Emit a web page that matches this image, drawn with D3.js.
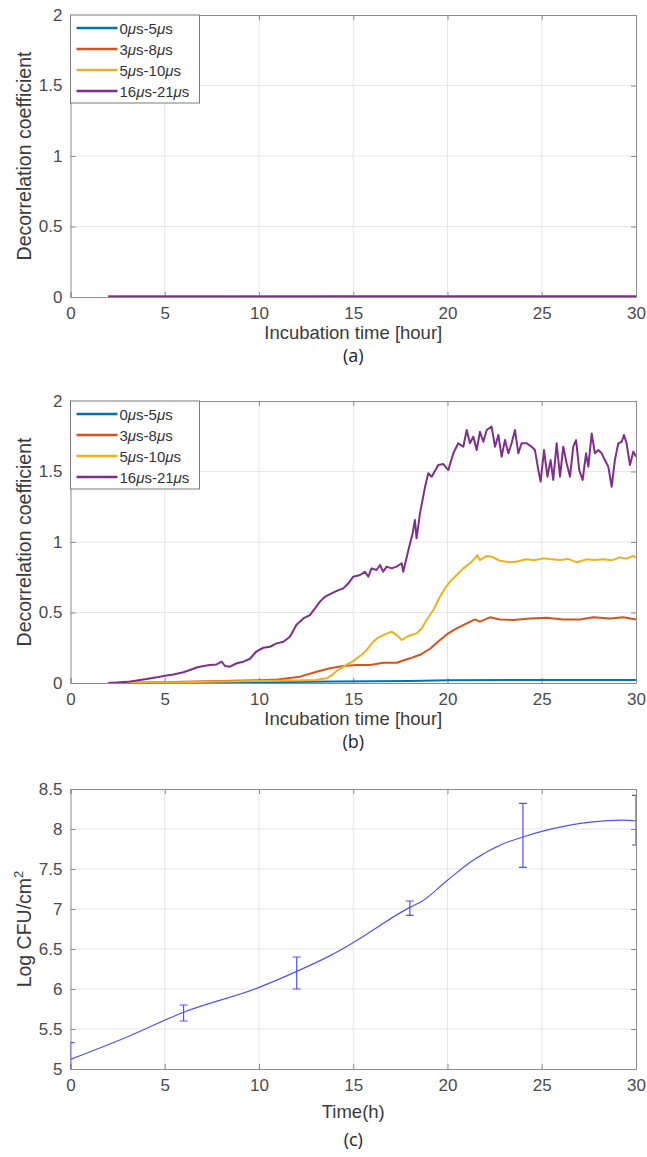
<!DOCTYPE html>
<html><head><meta charset="utf-8">
<script src="https://cdn.jsdelivr.net/npm/d3@7"></script>
<style>body{margin:0;background:#fff}svg{display:block}</style>
</head><body>
<svg id="fig" width="647" height="1157"></svg>
<script>
// ---------------- DATA ----------------
const seriesLabels = ["0μs-5μs", "3μs-8μs", "5μs-10μs", "16μs-21μs"];
const seriesColors = ["#0072BD", "#D95319", "#EDB120", "#7E2F8E"];
const xTickValues = [0, 5, 10, 15, 20, 25, 30];
const decorYTicks = [0, 0.5, 1, 1.5, 2];
const cfuYTicks = [5, 5.5, 6, 6.5, 7, 7.5, 8, 8.5];

// Panel (a): all series flat near zero
const aTime = [2, 6, 10, 14, 18, 22, 26, 30];
const aBlue   = [0, 0, 0.001, 0.001, 0.001, 0.001, 0.001, 0.001];
const aOrange = [0, 0.001, 0.001, 0.002, 0.002, 0.002, 0.002, 0.002];
const aYellow = [0, 0.001, 0.002, 0.002, 0.002, 0.002, 0.002, 0.002];
const aPurple = [0.002, 0.003, 0.003, 0.003, 0.003, 0.003, 0.003, 0.003];

// Panel (b)
const bBlueT = [2, 6, 10, 14, 18, 20, 25, 30];
const bBlueV = [0, 0.002, 0.005, 0.01, 0.015, 0.02, 0.022, 0.022];

const bOrangeT = [2, 4, 6, 8, 10, 11, 12.17, 13.06, 13.76, 14.47, 15.18, 15.89, 16.59, 17.3, 18.01, 18.54, 19.07, 19.6, 20.04, 20.49, 21.02, 21.46, 21.72, 22.25, 22.78, 23.49, 24.38, 25.26, 26.14, 27.03, 27.74, 28.62, 29.33, 30];
const bOrangeV = [0, 0.004, 0.008, 0.014, 0.02, 0.025, 0.045, 0.08, 0.104, 0.12, 0.127, 0.127, 0.144, 0.144, 0.175, 0.2, 0.243, 0.305, 0.352, 0.388, 0.423, 0.451, 0.435, 0.466, 0.451, 0.447, 0.458, 0.463, 0.451, 0.451, 0.466, 0.458, 0.466, 0.451];

const bYellowT = [2, 4, 6, 8, 10, 12, 13, 13.59, 13.9, 14.12, 14.47, 14.65, 15, 15.18, 15.45, 15.71, 16.06, 16.3, 16.59, 17.04, 17.3, 17.57, 17.92, 18.36, 18.63, 18.89, 19.25, 19.6, 19.87, 20.13, 20.49, 20.84, 21.19, 21.46, 21.58, 21.72, 22.08, 22.34, 22.78, 23.31, 23.67, 24.2, 24.6, 25.08, 25.5, 25.97, 26.4, 26.85, 27.38, 27.8, 28.27, 28.7, 29.15, 29.5, 29.86, 30];
const bYellowV = [0, 0.003, 0.006, 0.01, 0.014, 0.018, 0.022, 0.033, 0.06, 0.085, 0.115, 0.13, 0.155, 0.175, 0.2, 0.234, 0.293, 0.32, 0.34, 0.364, 0.34, 0.305, 0.333, 0.352, 0.387, 0.447, 0.518, 0.612, 0.671, 0.719, 0.766, 0.813, 0.849, 0.884, 0.908, 0.872, 0.901, 0.896, 0.867, 0.856, 0.862, 0.877, 0.87, 0.884, 0.878, 0.872, 0.88, 0.856, 0.877, 0.872, 0.877, 0.87, 0.891, 0.882, 0.901, 0.891];

const bPurpleT = [2, 2.5, 3, 3.51, 4.04, 4.57, 5.01, 5.45, 5.99, 6.34, 6.69, 7.05, 7.4, 7.75, 8.02, 8.2, 8.46, 8.82, 9.17, 9.52, 9.87, 10.23, 10.58, 10.93, 11.29, 11.64, 11.98, 12.35, 12.7, 12.97, 13.23, 13.5, 13.85, 14.21, 14.47, 14.74, 15, 15.36, 15.62, 15.8, 15.97, 16.24, 16.42, 16.59, 16.77, 17.04, 17.3, 17.57, 17.65, 17.8, 17.97, 18.15, 18.27, 18.36,
  18.54, 18.81, 18.98, 19.16, 19.51, 19.78, 20.04, 20.31, 20.57, 20.84, 21.02, 21.19, 21.37, 21.55, 21.72, 21.9, 22.08, 22.34, 22.52, 22.7, 22.87, 23.05, 23.23, 23.4, 23.58, 23.76, 23.93, 24.2, 24.46, 24.64, 24.82, 24.94, 25.12, 25.3, 25.47, 25.61, 25.79, 25.97, 26.14, 26.32, 26.5, 26.67, 26.82, 26.99, 27.17, 27.35, 27.47, 27.65, 27.82, 28, 28.18, 28.35, 28.53, 28.71, 28.88, 29.06, 29.24, 29.36, 29.5, 29.68, 29.86, 30];
const bPurpleV = [0, 0.003, 0.008, 0.017, 0.028, 0.04, 0.052, 0.061, 0.076, 0.092, 0.11, 0.12, 0.128, 0.132, 0.151, 0.12, 0.116, 0.14, 0.151, 0.172, 0.225, 0.25, 0.257, 0.281, 0.293, 0.328, 0.411, 0.458, 0.482, 0.529, 0.577, 0.612, 0.636, 0.659, 0.671, 0.707, 0.754, 0.766, 0.789, 0.754, 0.813, 0.801, 0.837, 0.789, 0.825, 0.813, 0.825, 0.849, 0.789, 0.872, 0.967, 1.061, 1.156, 1.026,
  1.203, 1.392, 1.487, 1.463, 1.546, 1.553, 1.51, 1.629, 1.7, 1.676, 1.794, 1.7, 1.747, 1.652, 1.782, 1.711, 1.794, 1.818, 1.676, 1.759, 1.605, 1.723, 1.629, 1.7, 1.794, 1.629, 1.7, 1.7, 1.676, 1.652, 1.51, 1.428, 1.652, 1.463, 1.581, 1.44, 1.7, 1.463, 1.676, 1.558, 1.463, 1.676, 1.723, 1.51, 1.44, 1.629, 1.534, 1.77, 1.629, 1.652, 1.629, 1.581, 1.534, 1.392, 1.581, 1.7, 1.711, 1.759, 1.7, 1.546, 1.641, 1.605];

// Panel (c)
const cfuCurveT = [0, 3, 6, 10, 12, 13.8, 15, 18, 18.6, 20, 21.3, 22.9, 24, 25, 27.7, 29.3, 30];
const cfuCurveV = [5.12, 5.4, 5.71, 6.02, 6.22, 6.42, 6.58, 7.02, 7.09, 7.36, 7.6, 7.81, 7.9, 7.97, 8.09, 8.11, 8.1];
const cfuErrT = [0, 6, 12, 18, 24, 30];
const cfuErrMean = [5.11, 5.7, 6.2, 7.01, 7.92, 8.11];
const cfuErrHalf = [0.22, 0.1, 0.2, 0.09, 0.4, 0.31];

// ---------------- DRAWING ----------------
const svg = d3.select("#fig");
const L = 70.5, R = 636;
const fontSans = "'Liberation Sans', Arial, sans-serif";
const tickColor = "#4a4a4a", boxColor = "#8c8c8c", gridColor = "#e6e6e6";

function panel(id, top, bottom, yDomain, yTicks, yFmt) {
  const x = d3.scaleLinear().domain([0, 30]).range([L, R]);
  const y = d3.scaleLinear().domain(yDomain).range([bottom, top]);
  const g = svg.append("g");
  g.selectAll(".gx").data(xTickValues.slice(1, -1)).join("line")
    .attr("x1", d => x(d)).attr("x2", d => x(d)).attr("y1", top).attr("y2", bottom)
    .attr("stroke", gridColor).attr("stroke-width", 1);
  g.selectAll(".gy").data(yTicks.slice(1, -1)).join("line")
    .attr("y1", d => y(d)).attr("y2", d => y(d)).attr("x1", L).attr("x2", R)
    .attr("stroke", gridColor).attr("stroke-width", 1);
  const xa = g.append("g").attr("transform", `translate(0,${bottom})`)
    .call(d3.axisBottom(x).tickValues(xTickValues).tickSize(-5).tickPadding(10).tickFormat(d3.format("d")));
  const xt = g.append("g").attr("transform", `translate(0,${top})`)
    .call(d3.axisTop(x).tickValues(xTickValues).tickSize(-5).tickFormat(""));
  const ya = g.append("g").attr("transform", `translate(${L},0)`)
    .call(d3.axisLeft(y).tickValues(yTicks).tickSize(-5).tickPadding(8).tickFormat(yFmt));
  const yr = g.append("g").attr("transform", `translate(${R},0)`)
    .call(d3.axisRight(y).tickValues(yTicks).tickSize(-5).tickFormat(""));
  [xa, xt, ya, yr].forEach(a => {
    a.select(".domain").attr("stroke", boxColor);
    a.selectAll(".tick line").attr("stroke", boxColor);
    a.selectAll("text").attr("font-family", fontSans).attr("font-size", 17).attr("fill", tickColor);
  });
  g.append("clipPath").attr("id", "clip" + id).append("rect")
    .attr("x", L).attr("y", top).attr("width", R - L).attr("height", bottom - top);
  const plot = g.append("g").attr("clip-path", `url(#clip${id})`);
  return {x, y, g, plot};
}

function xTitle(text, yPos) {
  svg.append("text").attr("x", (L + R) / 2).attr("y", yPos).attr("text-anchor", "middle")
    .attr("font-family", fontSans).attr("font-size", 18.5).attr("fill", "#3a3a3a").text(text);
}
function panelTag(text, yPos) {
  svg.append("text").attr("x", (L + R) / 2).attr("y", yPos).attr("text-anchor", "middle")
    .attr("font-family", "'Open Sans', 'Noto Sans', sans-serif").attr("font-size", 18).attr("fill", "#1e1e2e").text(text);
}
function yTitle(top, bottom, build) {
  const t = svg.append("text").attr("transform", `translate(31,${(top + bottom) / 2}) rotate(-90)`)
    .attr("text-anchor", "middle").attr("font-family", fontSans).attr("font-size", 19.5).attr("fill", "#3a3a3a");
  build(t);
}

function drawLines(p, list, width) {
  const line = d3.line().x(d => p.x(d[0])).y(d => p.y(d[1]));
  list.forEach((s, i) => {
    const pts = s.t.map((t, k) => [t, s.v[k]]);
    p.plot.append("path").attr("d", line(pts)).attr("fill", "none")
      .attr("stroke", seriesColors[i]).attr("stroke-width", width).attr("stroke-linejoin", "round");
  });
}

function legend(top) {
  const lg = svg.append("g");
  lg.append("rect").attr("x", L).attr("y", top).attr("width", 129).attr("height", 88)
    .attr("fill", "#fff").attr("stroke", "#7a7a7a").attr("stroke-width", 1);
  seriesLabels.forEach((lab, i) => {
    const yy = top + 13 + i * 21;
    lg.append("line").attr("x1", L + 6).attr("x2", L + 47).attr("y1", yy).attr("y2", yy)
      .attr("stroke", seriesColors[i]).attr("stroke-width", 2.5);
    const t = lg.append("text").attr("x", L + 49).attr("y", yy + 5.5)
      .attr("font-family", fontSans).attr("font-size", 15).attr("fill", "#333");
    lab.split(/(μ)/).forEach(part => {
      if (!part) return;
      const ts = t.append("tspan").text(part);
      if (part === "μ") ts.attr("font-style", "italic");
    });
  });
}

// Panel (a)
const pa = panel("a", 15, 297, [0, 2], decorYTicks, d3.format("~g"));
drawLines(pa, [
  {t: aTime, v: aBlue}, {t: aTime, v: aOrange}, {t: aTime, v: aYellow}, {t: aTime, v: aPurple}
], 2.4);
legend(15);
yTitle(15, 297, t => t.text("Decorrelation coefficient"));
xTitle("Incubation time [hour]", 339);
panelTag("(a)", 362);

// Panel (b)
const pb = panel("b", 401, 683, [0, 2], decorYTicks, d3.format("~g"));
drawLines(pb, [
  {t: bBlueT, v: bBlueV}, {t: bOrangeT, v: bOrangeV}, {t: bYellowT, v: bYellowV}, {t: bPurpleT, v: bPurpleV}
], 2);
legend(401);
yTitle(401, 683, t => t.text("Decorrelation coefficient"));
xTitle("Incubation time [hour]", 725);
panelTag("(b)", 748);

// Panel (c)
const pc = panel("c", 789, 1069, [5, 8.5], cfuYTicks, d3.format("~g"));
const cline = d3.line().curve(d3.curveMonotoneX).x(d => pc.x(d[0])).y(d => pc.y(d[1]));
pc.plot.append("path").attr("d", cline(cfuCurveT.map((t, k) => [t, cfuCurveV[k]])))
  .attr("fill", "none").attr("stroke", "#5050ff").attr("stroke-width", 1.2);
const eb = pc.plot.selectAll(".eb").data(cfuErrT.map((t, k) => ({t, m: cfuErrMean[k], e: cfuErrHalf[k]}))).join("g");
eb.append("line").attr("x1", d => pc.x(d.t)).attr("x2", d => pc.x(d.t))
  .attr("y1", d => pc.y(d.m - d.e)).attr("y2", d => pc.y(d.m + d.e)).attr("stroke", "#5050ff").attr("stroke-width", 1.2);
[-1, 1].forEach(s => {
  eb.append("line").attr("x1", d => pc.x(d.t) - 4).attr("x2", d => pc.x(d.t) + 4)
    .attr("y1", d => pc.y(d.m + s * d.e)).attr("y2", d => pc.y(d.m + s * d.e))
    .attr("stroke", "#5050ff").attr("stroke-width", 1.2);
});
yTitle(789, 1069, t => {
  t.append("tspan").text("Log CFU/cm");
  t.append("tspan").attr("font-size", 13).attr("dy", -8).text("2");
});
xTitle("Time(h)", 1118);
panelTag("(c)", 1146);
</script>
</body></html>
